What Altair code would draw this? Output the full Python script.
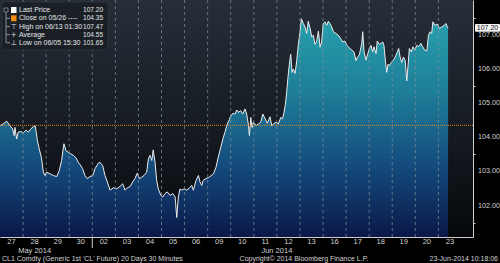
import altair as alt
import pandas as pd

# ---------------- data ----------------
day_labels = ["27", "28", "29", "30", "02", "03", "04", "05", "06", "09",
              "10", "11", "12", "13", "16", "17", "18", "19", "20", "23"]
month_labels = ["May 2014", "Jun 2014"]
month_label_pos = [1.5, 12.0]          # in trading-day units
month_break = 4                         # first June trading day index

# time in trading days since 27 May session start
t_days = [
    0.00, 0.14, 0.29, 0.43, 0.55, 0.61, 0.65, 0.72, 0.79, 0.90, 1.01, 1.13, 1.23, 1.33, 1.44, 1.52,
    1.56, 1.62, 1.70, 1.79, 1.88, 1.95, 2.02, 2.17, 2.31, 2.46, 2.57, 2.67, 2.77, 2.86, 2.96, 3.06,
    3.18, 3.29, 3.39, 3.47, 3.58, 3.68, 3.78, 3.90, 4.02, 4.12, 4.26, 4.33, 4.45, 4.55, 4.63,
    4.77, 4.91, 5.06, 5.20, 5.32, 5.42, 5.52, 5.64, 5.75, 5.85, 5.95, 6.04, 6.14, 6.24, 6.36, 6.43,
    6.50, 6.58, 6.64, 6.72, 6.79, 6.86, 6.97, 7.05, 7.15, 7.25, 7.37, 7.49, 7.59, 7.66, 7.73, 7.80,
    7.88, 7.98, 8.09, 8.21, 8.31, 8.38, 8.50, 8.60, 8.67, 8.74, 8.81, 8.93, 9.03, 9.10, 9.25, 9.36,
    9.46, 9.57, 9.68, 9.75, 9.85, 9.94,
    9.97, 10.09, 10.19, 10.26, 10.33, 10.43, 10.52, 10.62, 10.69, 10.76, 10.81, 10.87, 10.92, 10.98,
    11.10, 11.20, 11.30, 11.39, 11.49, 11.59, 11.70, 11.78, 11.85, 11.96, 12.06, 12.17, 12.25, 12.31,
    12.37, 12.43, 12.48, 12.54, 12.60, 12.66, 12.71, 12.79, 12.86, 12.93, 13.00, 13.06, 13.15, 13.22,
    13.29, 13.36, 13.44, 13.51, 13.58, 13.65, 13.73, 13.80, 13.87, 13.94, 14.01, 14.09, 14.16, 14.23,
    14.30,
    14.38, 14.45, 14.56, 14.66, 14.77, 14.85, 14.95, 15.03, 15.14, 15.24, 15.34, 15.43, 15.49, 15.57,
    15.68, 15.72, 15.78, 15.86, 15.94, 16.01, 16.08, 16.15, 16.21, 16.30, 16.35, 16.44, 16.51, 16.59,
    16.64, 16.70, 16.76, 16.82, 16.87, 16.96, 17.05, 17.13, 17.22, 17.28, 17.34, 17.41, 17.48, 17.56,
    17.60, 17.63, 17.69, 17.74, 17.83, 17.89, 17.98, 18.06, 18.15, 18.24, 18.32, 18.41, 18.50, 18.57,
    18.64, 18.71, 18.76, 18.86, 18.96, 19.04, 19.15, 19.25, 19.33, 19.39, 19.42,
]
price = [
    104.34, 104.39, 104.47, 104.34, 104.24, 104.05, 104.29, 103.95, 104.15, 104.17, 104.13, 104.21, 104.15, 104.24, 104.31, 104.34,
    104.20, 103.90, 103.66, 103.42, 102.98, 102.88, 102.98, 102.93, 102.88, 102.85, 103.03, 103.32, 103.81, 103.61, 103.56, 103.52,
    103.47, 103.40, 103.27, 103.20, 103.08, 102.88, 102.79, 102.85, 102.88, 103.08, 103.24, 103.27, 103.17, 102.88, 102.74,
    102.45, 102.52, 102.49, 102.56, 102.64, 102.45, 102.52, 102.56, 102.69, 102.79, 102.95, 102.79, 102.83, 102.88, 102.98, 103.37,
    103.47, 103.32, 103.63, 103.27, 102.74, 102.49, 102.30, 102.25, 102.35, 102.40, 102.30, 102.35, 102.25, 101.65, 102.25, 102.49,
    102.45, 102.49, 102.45, 102.52, 102.59, 102.45, 102.74, 102.88, 102.69, 102.59, 102.74, 102.79, 102.82, 102.85, 102.93, 103.12,
    103.42, 103.71, 104.00, 104.15, 104.39, 104.51,
    104.58, 104.70, 104.68, 104.80, 104.73, 104.78, 104.68, 104.83, 104.68, 104.39, 104.05, 104.58, 104.29, 104.44,
    104.34, 104.39, 104.44, 104.68, 104.54, 104.41, 104.60, 104.34, 104.39, 104.44, 104.39, 104.58, 104.54, 104.73,
    104.97, 105.36, 105.75, 106.14, 106.43, 105.90, 106.00, 105.87, 106.24, 106.72, 107.06, 107.47, 107.33, 107.23,
    107.04, 107.40, 107.19, 106.94, 106.99, 106.72, 106.82, 107.11, 106.64, 106.79, 107.33, 107.38, 107.28, 107.40,
    107.33,
    107.23, 107.09, 107.04, 106.99, 106.89, 106.79, 106.82, 106.69, 106.62, 106.56, 106.50, 106.24, 106.35, 106.40,
    106.75, 107.09, 106.50, 106.26, 106.45, 106.60, 106.69, 106.50, 106.65, 106.45, 106.82, 106.72, 106.75, 106.79,
    106.69, 106.26, 105.90, 106.14, 106.09, 106.19, 106.26, 106.35, 106.50, 106.60, 106.35, 106.19, 106.35, 106.26,
    105.90, 105.65, 106.14, 106.60, 106.50, 106.65, 106.56, 106.69, 106.66, 106.75, 106.65, 106.55, 106.53, 106.99,
    107.09, 107.04, 107.38, 107.28, 107.31, 107.19, 107.23, 107.28, 107.33, 107.23, 107.20,
]
close_prev = 104.35
last_price = 107.20
y_major = [102, 103, 104, 105, 106, 107]
legend_labels = ["Last Price", "Close on 05/26 ----", "High on 06/13 01:30", "Average", "Low on 06/05 15:30"]
legend_values = ["107.20", "104.35", "107.47", "104.55", "101.65"]
legend_icons = ["", "", "\u22a4", "+", "\u22a5"]
title_left = "CL1 Comdty (Generic 1st 'CL' Future) 20 Days 30 Minutes"
title_mid = "Copyright\u00a9 2014 Bloomberg Finance L.P."
title_right = "23-Jun-2014 10:18:06"

assert len(t_days) == len(price)

# ---------------- chart ----------------
W, H = 473, 237
X_DOM = [0, 20.5]
Y_DOM = [101.08, 108.02]
FONT = "Liberation Sans"
TXT = "#d2d2d2"

df = pd.DataFrame({"t": t_days, "price": price})
one = pd.DataFrame({"a": [0]})

xscale = alt.Scale(domain=X_DOM, nice=False, zero=False)
yscale = alt.Scale(domain=Y_DOM, nice=False, zero=False)

y_vals = sorted(set([v for v in y_major] + [v + 0.5 for v in y_major] + [y_major[0] - 0.5]))

x_axis = alt.Axis(
    labels=False, ticks=False, grid=False, title=None,
    domainColor="#cfcfcf", domainWidth=1,
)
y_axis = alt.Axis(
    orient="right", values=y_vals, title=None, labels=False,
    domainColor="#cfcfcf", tickColor="#cfcfcf",
    tickSize={"condition": {"test": "datum.value % 1 != 0", "value": 2}, "value": 4},
    grid=True, gridColor="#a3abb3", gridDash=[1, 2], gridWidth=1,
    gridOpacity={"condition": {"test": "datum.value % 1 != 0", "value": 0}, "value": 1},
    zindex=1,
)

bg_grad = alt.Gradient(
    gradient="linear", x1=0, x2=0, y1=0, y2=1,
    stops=[alt.GradientStop(color="#262e38", offset=0),
           alt.GradientStop(color="#161b22", offset=0.55),
           alt.GradientStop(color="#06080b", offset=1)],
)
area_grad = alt.Gradient(
    gradient="linear", x1=0, x2=0, y1=0, y2=1,
    stops=[alt.GradientStop(color="#27a0ad", offset=0),
           alt.GradientStop(color="#1e7c98", offset=0.35),
           alt.GradientStop(color="#144a7c", offset=0.68),
           alt.GradientStop(color="#0a1848", offset=1)],
)

bg = alt.Chart(one).mark_rect(color=bg_grad).encode(
    x=alt.datum(X_DOM[0], scale=xscale), x2=alt.datum(X_DOM[1]),
    y=alt.datum(Y_DOM[0], scale=yscale), y2=alt.datum(Y_DOM[1]),
)

base = alt.Chart(df).encode(
    x=alt.X("t:Q", scale=xscale, axis=x_axis),
    y=alt.Y("price:Q", scale=yscale, axis=y_axis),
)
area = base.mark_area(color=area_grad, clip=True).encode(y2=alt.datum(Y_DOM[0]))
line = base.mark_line(color="#ececec", strokeWidth=1, clip=True)

vgrid = alt.Chart(pd.DataFrame({"b": list(range(1, len(day_labels)))})).mark_rule(
    color="#86909a", strokeDash=[3, 3], strokeWidth=1, opacity=0.7
).encode(x="b:Q")

close_rule = alt.Chart(one).mark_rule(color="#f08a10", strokeDash=[1, 1], strokeWidth=1).encode(
    y=alt.datum(close_prev)
)

# x tick labels at day centres
xlab = alt.Chart(pd.DataFrame({"d": day_labels, "c": [i + 0.5 for i in range(len(day_labels))]})).mark_text(
    font=FONT, fontSize=7.5, color=TXT, baseline="middle", align="center"
).encode(x="c:Q", y=alt.value(242), text="d:N")

# y tick labels on the right
ylab = alt.Chart(pd.DataFrame({"v": y_major, "s": [f"{v:.2f}" for v in y_major]})).mark_text(
    font=FONT, fontSize=7.2, color=TXT, baseline="middle", align="left"
).encode(x=alt.value(478), y="v:Q", text="s:N")

sep = alt.Chart(one).mark_rule(color="#cfcfcf", strokeWidth=1).encode(
    x=alt.datum(month_break), y=alt.value(H), y2=alt.value(H + 11)
)

months = alt.Chart(pd.DataFrame({"m": month_labels, "p": month_label_pos})).mark_text(
    font=FONT, fontSize=7.5, color=TXT, baseline="middle", align="center"
).encode(x="p:Q", y=alt.value(250.5), text="m:N")

def ftext(txt, x, align):
    return alt.Chart(one).mark_text(
        font=FONT, fontSize=7, color=TXT, baseline="middle", align=align
    ).encode(x=alt.value(x), y=alt.value(259), text=alt.value(txt))

footer = [ftext(title_left, 2, "left"), ftext(title_mid, 304, "center"), ftext(title_right, 498, "right")]

# last price tag on the right axis (drawn above the 107.00 label, as in the source)
tag_box = alt.Chart(one).mark_rect(color="#f4f4f4", cornerRadius=1).encode(
    x=alt.value(475), x2=alt.value(500),
    y=alt.datum(last_price + 0.115), y2=alt.datum(last_price - 0.11),
)
tag_txt = alt.Chart(one).mark_text(font=FONT, fontSize=7, color="#111111", align="center", baseline="middle").encode(
    x=alt.value(487.5), y=alt.datum(last_price), text=alt.value(f"{last_price:.2f}")
)

# legend box at top-left
leg = [alt.Chart(one).mark_rect(color="#1a1f25", opacity=0.92, cornerRadius=3, stroke="#303740", strokeWidth=0.8).encode(
    x=alt.value(2), x2=alt.value(108), y=alt.value(2), y2=alt.value(50))]
row_y = [10, 18.3, 26.6, 34.7, 42.8]
leg.append(alt.Chart(one).mark_rule(color="#8a8f96", strokeWidth=1).encode(
    x=alt.value(6), y=alt.value(12), y2=alt.value(row_y[-1])))
leg.append(alt.Chart(one).mark_rect(fill="#1a1f25", stroke="#8a8f96", strokeWidth=0.8).encode(
    x=alt.value(4), x2=alt.value(8), y=alt.value(8), y2=alt.value(12)))
for i, (lab, val, ic) in enumerate(zip(legend_labels, legend_values, legend_icons)):
    yy = row_y[i]
    if i > 0:
        leg.append(alt.Chart(one).mark_rule(color="#8a8f96", strokeWidth=1).encode(
            x=alt.value(6), x2=alt.value(10), y=alt.value(yy)))
    if i == 0:
        leg.append(alt.Chart(one).mark_rect(color="#ffffff").encode(
            x=alt.value(11), x2=alt.value(16.5), y=alt.value(yy - 3), y2=alt.value(yy + 3)))
    elif i == 1:
        leg.append(alt.Chart(one).mark_rect(color="#f08a10").encode(
            x=alt.value(11), x2=alt.value(16.5), y=alt.value(yy - 3), y2=alt.value(yy + 3)))
    else:
        leg.append(alt.Chart(one).mark_text(font="DejaVu Sans", fontSize=7, color="#e0e0e0", align="center", baseline="middle").encode(
            x=alt.value(13.7), y=alt.value(yy), text=alt.value(ic)))
    leg.append(alt.Chart(one).mark_text(font=FONT, fontSize=7, color="#e6e6e6", align="left", baseline="middle").encode(
        x=alt.value(19), y=alt.value(yy), text=alt.value(lab)))
    leg.append(alt.Chart(one).mark_text(font=FONT, fontSize=6.5, color="#e6e6e6", align="right", baseline="middle").encode(
        x=alt.value(103), y=alt.value(yy), text=alt.value(val)))

chart = alt.layer(
    bg, area, line, vgrid, close_rule, xlab, ylab, sep, months, *footer, tag_box, tag_txt, *leg
).properties(
    width=W, height=H, background="#000000",
    padding={"left": 0, "top": 0, "right": 27, "bottom": 26},
    autosize=alt.AutoSizeParams(type="none"),
).configure_view(strokeWidth=0)

chart.save("out.html", embed_options={"renderer": "svg", "actions": False})
